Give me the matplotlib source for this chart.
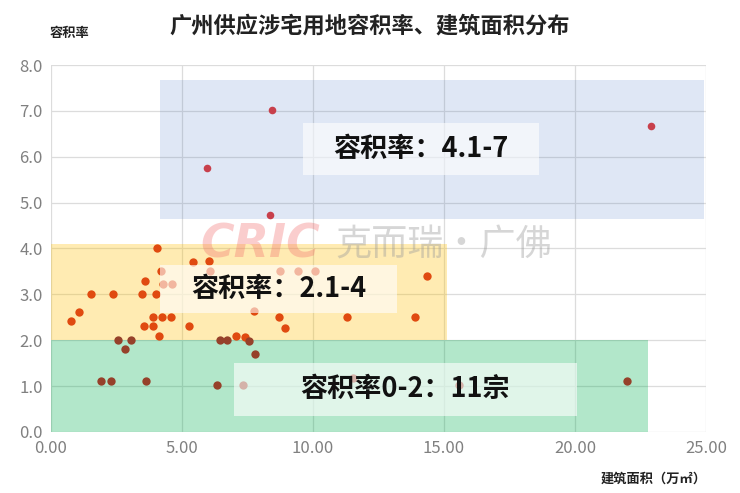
import matplotlib
matplotlib.use('Agg')
import matplotlib.pyplot as plt
import matplotlib.patches as patches
from matplotlib.ticker import FormatStrFormatter, MultipleLocator

plt.rcParams['font.family'] = ['Noto Sans CJK SC', 'DejaVu Sans']

# 数据：建筑面积（万㎡） / 容积率
x_mid = [4.06, 3.60, 1.54, 2.35, 3.46, 4.01, 1.06, 0.75, 3.88, 4.22, 4.57, 3.56, 3.91, 4.13,
         5.28, 4.20, 4.28, 4.60, 5.40, 6.04, 6.07, 7.76, 8.74, 9.41, 10.09, 14.36, 8.72, 8.93,
         11.31, 13.88, 7.05, 7.40]
y_mid = [4.00, 3.30, 3.01, 3.01, 3.01, 3.01, 2.62, 2.42, 2.50, 2.50, 2.50, 2.30, 2.30, 2.10,
         2.30, 3.51, 3.22, 3.22, 3.70, 3.73, 3.51, 2.63, 3.51, 3.51, 3.51, 3.41, 2.50, 2.27,
         2.50, 2.50, 2.09, 2.08]

x_low = [2.57, 3.04, 2.84, 6.45, 6.70, 7.57, 7.80, 1.91, 2.28, 3.64, 6.34, 7.32, 11.54, 15.58, 21.97]
y_low = [2.00, 2.00, 1.81, 2.00, 2.00, 1.98, 1.70, 1.10, 1.10, 1.10, 1.02, 1.02, 1.17, 1.02, 1.10]

x_high = [8.44, 5.95, 8.36, 22.90]
y_high = [7.02, 5.75, 4.73, 6.67]

title = '广州供应涉宅用地容积率、建筑面积分布'
labels = ['容积率：4.1-7', '容积率：2.1-4', '容积率0-2：11宗']

fig = plt.figure(figsize=(7.4, 4.93), dpi=100)
ax = fig.add_axes([0.069, 0.124, 0.885, 0.744])
ax.set_xlim(0, 25)
ax.set_ylim(0, 8)
ax.xaxis.set_major_locator(MultipleLocator(5))
ax.yaxis.set_major_locator(MultipleLocator(1))
ax.xaxis.set_major_formatter(FormatStrFormatter('%.2f'))
ax.yaxis.set_major_formatter(FormatStrFormatter('%.1f'))
ax.tick_params(length=0, labelsize=12, colors='#808080', pad=6)
for s in ax.spines.values():
    s.set_visible(False)
ax.grid(True, color='#dcdcdc', linewidth=0.9, zorder=0)
ax.set_axisbelow(True)

# 分区背景
ax.add_patch(patches.Rectangle((4.16, 4.64), 20.76, 3.03, facecolor='#4472c4', alpha=0.17,
                               edgecolor='none', zorder=1))
ax.add_patch(patches.Rectangle((0, 2.0), 15.1, 2.1, facecolor='#ffc000', alpha=0.3,
                               edgecolor='none', zorder=1))
ax.add_patch(patches.Rectangle((0, 0), 22.8, 2.0, facecolor='#00b050', alpha=0.3,
                               edgecolor='none', zorder=1))

# 散点
ax.scatter(x_mid, y_mid, s=36, color='#e04a10', zorder=3, linewidths=0)
ax.scatter(x_low, y_low, s=36, color='#96412a', zorder=3, linewidths=0)
ax.scatter(x_high, y_high, s=30, color='#c8404c', zorder=3, linewidths=0)

# 水印
ax.text(8.0, 4.08, 'CRIC', fontsize=33, fontweight='bold', style='italic', color='#f26a6a',
        alpha=0.33, ha='center', va='center', zorder=4, family=['DejaVu Sans'])
ax.text(15.0, 4.08, '克而瑞·广佛', fontsize=26, color='#9a9a9a', alpha=0.4,
        ha='center', va='center', zorder=4)

# 标签框
boxes = [(9.62, 5.60, 9.01, 1.14), (4.16, 2.59, 9.05, 1.05), (6.98, 0.35, 13.10, 1.15)]
for (bx, by, bw, bh), lab in zip(boxes, labels):
    ax.add_patch(patches.Rectangle((bx, by), bw, bh, facecolor='white', alpha=0.6,
                                   edgecolor='none', zorder=5))
    ax.text(bx + bw / 2, by + bh / 2, lab, fontsize=19.5, fontweight='heavy', color='#111111',
            ha='center', va='center', zorder=6)

fig.text(0.5, 0.948, title, fontsize=16, fontweight='bold', ha='center', va='center', color='#222222')
fig.text(0.094, 0.933, '容积率', fontsize=9.5, fontweight='bold', ha='center', va='center', color='#222222')
fig.text(0.884, 0.030, '建筑面积（万㎡）', fontsize=9.5, fontweight='bold', ha='center', va='center',
         color='#222222')

fig.savefig('out.png', dpi=100)
